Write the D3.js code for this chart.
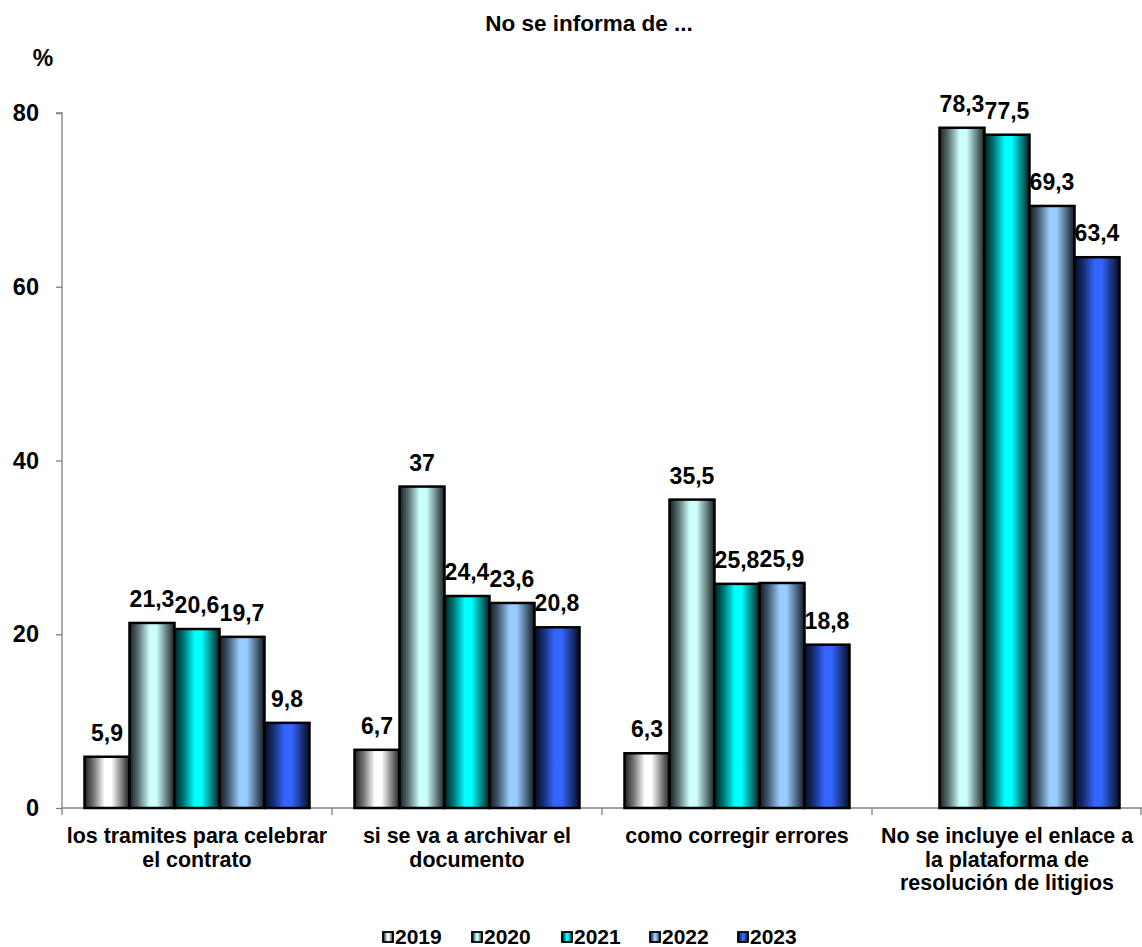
<!DOCTYPE html>
<html>
<head>
<meta charset="utf-8">
<script src="https://cdn.jsdelivr.net/npm/d3@7"></script>
<style>
  html, body { margin: 0; padding: 0; background: #fff; }
  svg { display: block; font-family: "Liberation Sans", Arial, sans-serif; }
</style>
</head>
<body>
<svg id="chart" width="1142" height="947"></svg>
<script>
// Categories (wrapped into lines) and yearly series
const categories = [
  ["los tramites para celebrar", "el contrato"],
  ["si se va a archivar el", "documento"],
  ["como corregir errores"],
  ["No se incluye el enlace a", "la plataforma de", "resolución de litigios"]
];
const years = ["2019", "2020", "2021", "2022", "2023"];
const values2019 = [5.9, 6.7, 6.3, null];
const values2020 = [21.3, 37, 35.5, 78.3];
const values2021 = [20.6, 24.4, 25.8, 77.5];
const values2022 = [19.7, 23.6, 25.9, 69.3];
const values2023 = [9.8, 20.8, 18.8, 63.4];
const yTicks = [0, 20, 40, 60, 80];
const seriesColors = ["#ffffff", "#ccffff", "#00ffff", "#99ccff", "#3366ff"];

const series = [values2019, values2020, values2021, values2022, values2023];

const svg = d3.select("#chart");
const plotLeft = 62, plotRight = 1142, plotTop = 113, plotBottom = 808;

const x0 = d3.scaleBand().domain(d3.range(categories.length)).range([plotLeft, plotRight]).paddingInner(0).paddingOuter(0);
const x1 = d3.scaleBand().domain(years).range([0, x0.bandwidth()]).paddingOuter(0.5).paddingInner(0);
const y = d3.scaleLinear().domain([0, 80]).range([plotBottom, plotTop]);

// Horizontal shading gradients for each series
const defs = svg.append("defs");
years.forEach((yr, i) => {
  const c = d3.color(seriesColors[i]);
  const g = defs.append("linearGradient").attr("id", "g" + yr)
    .attr("x1", "0%").attr("x2", "100%").attr("y1", "0%").attr("y2", "0%");
  const dark = d3.interpolateRgb("#000", c)(0.12);
  const mid = d3.interpolateRgb("#000", c)(0.45);
  g.append("stop").attr("offset", "0%").attr("stop-color", dark);
  g.append("stop").attr("offset", "20%").attr("stop-color", mid);
  g.append("stop").attr("offset", "45%").attr("stop-color", c.formatHex());
  g.append("stop").attr("offset", "60%").attr("stop-color", c.formatHex());
  g.append("stop").attr("offset", "85%").attr("stop-color", mid);
  g.append("stop").attr("offset", "100%").attr("stop-color", dark);
});

// Title and unit
svg.append("text").attr("x", 589).attr("y", 31).attr("text-anchor", "middle")
  .attr("font-size", 22.5).attr("font-weight", "bold").text("No se informa de ...");
svg.append("text").attr("x", 43).attr("y", 66).attr("text-anchor", "middle")
  .attr("font-size", 23).attr("font-weight", "bold").text("%");

// Y axis
const yAxis = svg.append("g").attr("transform", `translate(${plotLeft},0)`)
  .call(d3.axisLeft(y).tickValues(yTicks).tickSize(6).tickPadding(17).tickFormat(d3.format("d")));
yAxis.select(".domain").attr("stroke", "#808080").attr("stroke-width", 1.3).attr("d", `M-6,${plotTop}H0V${plotBottom}`);
yAxis.selectAll(".tick line").attr("stroke", "#808080").attr("stroke-width", 1.3);
yAxis.selectAll(".tick text").attr("font-size", 23.5).attr("font-weight", "bold").attr("fill", "#000")
  .attr("font-family", "Liberation Sans, Arial, sans-serif");

// X axis line with boundary ticks
svg.append("line").attr("x1", plotLeft).attr("x2", plotRight).attr("y1", plotBottom).attr("y2", plotBottom)
  .attr("stroke", "#808080").attr("stroke-width", 1.3);
d3.range(categories.length + 1).forEach(i => {
  const xx = i < categories.length ? x0(i) : plotRight - 1;
  svg.append("line").attr("x1", xx).attr("x2", xx).attr("y1", plotBottom).attr("y2", plotBottom + 7)
    .attr("stroke", "#808080").attr("stroke-width", 1.3);
});

// Bars
const fmt = v => String(v).replace(".", ",");
const groups = svg.append("g").selectAll("g").data(categories).join("g")
  .attr("transform", (d, i) => `translate(${x0(i)},0)`);
groups.each(function(cat, ci) {
  const g = d3.select(this);
  years.forEach((yr, si) => {
    const v = series[si][ci];
    if (v == null) return;
    g.append("rect").attr("x", x1(yr)).attr("width", x1.bandwidth())
      .attr("y", y(v)).attr("height", y(0) - y(v))
      .attr("fill", `url(#g${yr})`).attr("stroke", "#000").attr("stroke-width", 2.5);
  });
});
// Value labels drawn after all bars, then category names
groups.each(function(cat, ci) {
  const g = d3.select(this);
  years.forEach((yr, si) => {
    const v = series[si][ci];
    if (v == null) return;
    g.append("text").attr("x", x1(yr) + x1.bandwidth() / 2).attr("y", y(v) - 16)
      .attr("text-anchor", "middle").attr("font-size", 23).attr("font-weight", "bold").text(fmt(v));
  });
  const t = g.append("text").attr("text-anchor", "middle").attr("font-size", 21.4).attr("font-weight", "bold");
  cat.forEach((line, li) => {
    t.append("tspan").attr("x", x0.bandwidth() / 2).attr("y", 843 + li * 23.5).text(line);
  });
});

// Legend
const legendX = [383, 472, 562, 650, 738];
const legend = svg.append("g");
years.forEach((yr, i) => {
  legend.append("rect").attr("x", legendX[i]).attr("y", 932).attr("width", 10).attr("height", 10)
    .attr("fill", `url(#g${yr})`).attr("stroke", "#000").attr("stroke-width", 1.8);
  legend.append("text").attr("x", legendX[i] + 12).attr("y", 943.5).attr("font-size", 21)
    .attr("font-weight", "bold").text(yr);
});
</script>
</body>
</html>
